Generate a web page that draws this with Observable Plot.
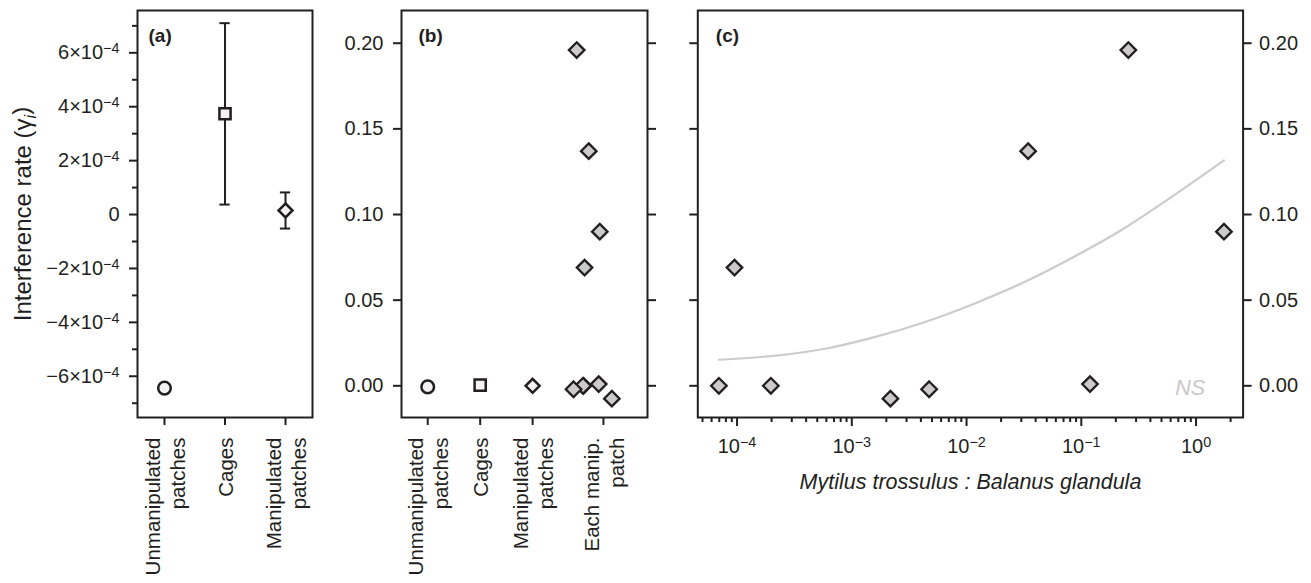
<!DOCTYPE html>
<html>
<head>
<meta charset="utf-8">
<script src="https://cdn.jsdelivr.net/npm/d3@7"></script>
<script src="https://cdn.jsdelivr.net/npm/@observablehq/plot@0.6"></script>
<style>
html, body { margin: 0; padding: 0; background: #fff; }
#fig { position: relative; width: 1311px; height: 583px; font-family: "Liberation Sans", Arial, sans-serif; }
#fig > div { position: absolute; top: 0; }
</style>
</head>
<body>
<div id="fig"><div id="pa" style="left:0px"></div><div id="pb" style="left:330px"></div><div id="pc" style="left:660px"></div></div>
<script>
// ---------- data ----------
const groups = ["Unmanipulated\npatches", "Cages", "Manipulated\npatches"];
const groupPos = [1, 2, 3];
const groupMean = [-6.44e-4, 3.74e-4, 0.15e-4];
const groupLow = [null, 0.37e-4, -0.52e-4];
const groupHigh = [null, 7.10e-4, 0.82e-4];
const groupSymbol = ["circle", "square", "diamond2"];

const rateTicks = [6e-4, 4e-4, 2e-4, 0, -2e-4, -4e-4, -6e-4];
const rateTickLabels = ["6×10⁻⁴", "4×10⁻⁴", "2×10⁻⁴", "0", "−2×10⁻⁴", "−4×10⁻⁴", "−6×10⁻⁴"];
const rateMinor = [7e-4, 5e-4, 3e-4, 1e-4, -1e-4, -3e-4, -5e-4, -7e-4];

const bCategories = ["Unmanipulated\npatches", "Cages", "Manipulated\npatches", "Each manip.\npatch"];
const bPos = [1, 2, 3, 4.35];

// each manipulated patch
const patchRatio  = [6.95e-5, 9.5e-5, 1.97e-4, 2.17e-3, 4.72e-3, 0.0344, 0.119, 0.257, 1.75];
const patchRate   = [0.000, 0.069, 0.000, -0.0075, -0.002, 0.137, 0.001, 0.196, 0.090];
const patchJitter = [3.97, 3.99, 3.96, 4.51, 3.78, 4.07, 4.26, 3.84, 4.28];

const fracTicks = [0, 0.05, 0.10, 0.15, 0.20];
const fracLabels = ["0.00", "0.05", "0.10", "0.15", "0.20"];

const ratioTicks = [1e-4, 1e-3, 1e-2, 1e-1, 1];
const ratioLabels = ["10⁻⁴", "10⁻³", "10⁻²", "10⁻¹", "10⁰"];

// fitted (non-significant) curve
const curveRatio = [6.95e-5, 2.09e-4, 5.69e-4, 1.55e-3, 4.23e-3, 1.15e-2, 3.16e-2, 8.57e-2, 0.233, 0.398, 1.75];
const curveRate  = [0.0152, 0.0175, 0.0215, 0.0283, 0.0370, 0.0478, 0.0604, 0.0752, 0.0917, 0.1018, 0.1316];

// ---------- tables ----------
const ink = "#231f20";
const font = "'Liberation Sans', Arial, sans-serif";
const aRows = groups.map((g, i) => ({g, pos: groupPos[i], mean: groupMean[i], lo: groupLow[i], hi: groupHigh[i], sym: groupSymbol[i]}));
const errRows = aRows.filter(d => d.lo != null);
const patchRows = patchRatio.map((r, i) => ({ratio: r, rate: patchRate[i], jit: patchJitter[i]}));
const curveRows = curveRatio.map((r, i) => ({ratio: r, rate: curveRate[i]}));
const minorRatio = [];
for (let k = -5; k <= 0; k++) for (let m = 2; m <= 9; m++) {
  const v = m * Math.pow(10, k);
  if (v > 4.55e-5 && v < 2.57) minorRatio.push(v);
}

const baseStyle = {fontFamily: font, fontSize: "20px", color: ink, background: "transparent", overflow: "visible"};
const fracDomain = [-0.0185, 0.2191];

const groupDots = (xField) => [
  Plot.dot(aRows, {x: xField, y: "mean", symbol: "sym", r: 6.3, fill: "#f2f2f2", stroke: ink, strokeWidth: 2.5})
];

// ---------- panel (a) ----------
const A = Plot.plot({
  width: 330, height: 583,
  marginLeft: 137, marginRight: 18, marginTop: 10, marginBottom: 166,
  style: baseStyle,
  x: {domain: [0.554, 3.446], axis: null},
  y: {domain: [-7.53e-4, 7.57e-4], axis: null},
  marks: [
    Plot.axisY({ticks: rateMinor, tickSize: 5, tickFormat: () => "", strokeWidth: 2, label: null}),
    Plot.axisY({ticks: rateTicks, tickSize: 8, tickPadding: 10, strokeWidth: 2, label: null, fontSize: 20,
      tickFormat: d => rateTickLabels[rateTicks.indexOf(d)]}),
    Plot.axisX({ticks: groupPos, tickSize: 8, strokeWidth: 2, tickFormat: () => "", label: null}),
    Plot.text(groups, {x: groupPos, text: d => d, frameAnchor: "bottom", dy: 20, rotate: -90,
      textAnchor: "end", lineAnchor: "middle", lineHeight: 1.22, fontSize: 20.5}),
    Plot.text(["Interference rate (γi)"], {frameAnchor: "left", dx: -114, rotate: -90, textAnchor: "middle",
      lineAnchor: "middle", fontSize: 24}),
    Plot.frame({stroke: ink, strokeWidth: 2}),
    Plot.ruleX(errRows, {x: "pos", y1: "lo", y2: "hi", stroke: ink, strokeWidth: 2}),
    Plot.ruleY(errRows, {y: "hi", x1: d => d.pos - 0.085, x2: d => d.pos + 0.085, stroke: ink, strokeWidth: 2}),
    Plot.ruleY(errRows, {y: "lo", x1: d => d.pos - 0.085, x2: d => d.pos + 0.085, stroke: ink, strokeWidth: 2}),
    ...groupDots("pos"),
    Plot.text(["(a)"], {frameAnchor: "top-left", dx: 11, dy: 25, lineAnchor: "middle", fontWeight: "bold", fontSize: 19})
  ]
});

// ---------- panel (b) ----------
const B = Plot.plot({
  width: 330, height: 583,
  marginLeft: 71, marginRight: 13, marginTop: 10, marginBottom: 166,
  style: baseStyle,
  x: {domain: [0.5, 5.19], axis: null},
  y: {domain: fracDomain, axis: null},
  marks: [
    Plot.axisY({ticks: fracTicks, tickSize: 8, tickPadding: 10, strokeWidth: 2, label: null, fontSize: 20,
      tickFormat: d => fracLabels[fracTicks.indexOf(d)]}),
    Plot.axisY({anchor: "right", ticks: fracTicks, tickSize: 8, strokeWidth: 2, tickFormat: () => "", label: null}),
    Plot.axisX({ticks: bPos, tickSize: 8, strokeWidth: 2, tickFormat: () => "", label: null}),
    Plot.text(bCategories, {x: bPos, text: d => d, frameAnchor: "bottom", dy: 20, rotate: -90,
      textAnchor: "end", lineAnchor: "middle", lineHeight: 1.22, fontSize: 20.5}),
    Plot.frame({stroke: ink, strokeWidth: 2}),
    ...groupDots("pos"),
    Plot.dot(patchRows, {x: "jit", y: "rate", symbol: "diamond2", r: 7, fill: "#cbcbcb", stroke: ink, strokeWidth: 2.3}),
    Plot.text(["(b)"], {frameAnchor: "top-left", dx: 17, dy: 25, lineAnchor: "middle", fontWeight: "bold", fontSize: 19})
  ]
});

// ---------- panel (c) ----------
const C = Plot.plot({
  width: 651, height: 583,
  marginLeft: 37.3, marginRight: 68.4, marginTop: 10, marginBottom: 166,
  style: baseStyle,
  x: {type: "log", domain: [4.55e-5, 2.57], axis: null},
  y: {domain: fracDomain, axis: null},
  marks: [
    Plot.axisY({ticks: fracTicks, tickSize: 8, strokeWidth: 2, tickFormat: () => "", label: null}),
    Plot.axisY({anchor: "right", ticks: fracTicks, tickSize: 8, tickPadding: 8, strokeWidth: 2, label: null, fontSize: 20,
      tickFormat: d => fracLabels[fracTicks.indexOf(d)]}),
    Plot.axisX({ticks: minorRatio, tickSize: 5, strokeWidth: 2, tickFormat: () => "", label: null}),
    Plot.axisX({ticks: ratioTicks, tickSize: 9, tickPadding: 12, strokeWidth: 2, label: null, fontSize: 20,
      tickFormat: d => ratioLabels[ratioTicks.indexOf(d)]}),
    Plot.text(["Mytilus trossulus : Balanus glandula"], {frameAnchor: "bottom", dy: 65, lineAnchor: "middle",
      fontStyle: "italic", fontSize: 21.5}),
    Plot.line(curveRows, {x: "ratio", y: "rate", stroke: "#cccccc", strokeWidth: 2.2, curve: "monotone-x"}),
    Plot.text(["NS"], {frameAnchor: "bottom-right", dx: -38, dy: -29, textAnchor: "end", lineAnchor: "middle",
      fill: "#c8c8c8", fontStyle: "italic", fontSize: 21.5}),
    Plot.frame({stroke: ink, strokeWidth: 2}),
    Plot.dot(patchRows, {x: "ratio", y: "rate", symbol: "diamond2", r: 7, fill: "#cbcbcb", stroke: ink, strokeWidth: 2.3}),
    Plot.text(["(c)"], {frameAnchor: "top-left", dx: 18, dy: 25, lineAnchor: "middle", fontWeight: "bold", fontSize: 19})
  ]
});

document.getElementById("pa").appendChild(A);
document.getElementById("pb").appendChild(B);
document.getElementById("pc").appendChild(C);

// render unicode superscripts as raised, reduced tspans (closer to the typeset exponents)
const supMap = {"⁻": "−", "⁰": "0", "¹": "1", "²": "2", "³": "3", "⁴": "4", "⁵": "5", "⁶": "6", "⁷": "7", "⁸": "8", "⁹": "9"};
function raiseExponents(svg) {
  d3.select(svg).selectAll("text").each(function () {
    if (this.querySelector("tspan")) return;
    const s = this.textContent;
    const i = [...s].findIndex(c => c in supMap);
    if (i < 0) return;
    const chars = [...s];
    const base = chars.slice(0, i).join("");
    const sup = chars.slice(i).map(c => supMap[c] || c).join("");
    const t = d3.select(this);
    t.text(base);
    t.append("tspan").attr("dy", "-0.42em").attr("font-size", "0.72em").text(sup);
  });
}
raiseExponents(A);
raiseExponents(C);

// italic subscript for the y label
d3.select(A).selectAll("text").filter(function () { return this.textContent === "Interference rate (γi)"; })
  .each(function () {
    const t = d3.select(this);
    t.text("Interference rate ");
    t.append("tspan").attr("font-weight", 300).text("(γ");
    t.append("tspan").attr("font-style", "italic").attr("font-size", "16px").attr("dy", "0.3em").text("i");
    t.append("tspan").attr("dy", "-0.3em").attr("font-weight", 300).text(")");
  });
</script>
</body>
</html>
